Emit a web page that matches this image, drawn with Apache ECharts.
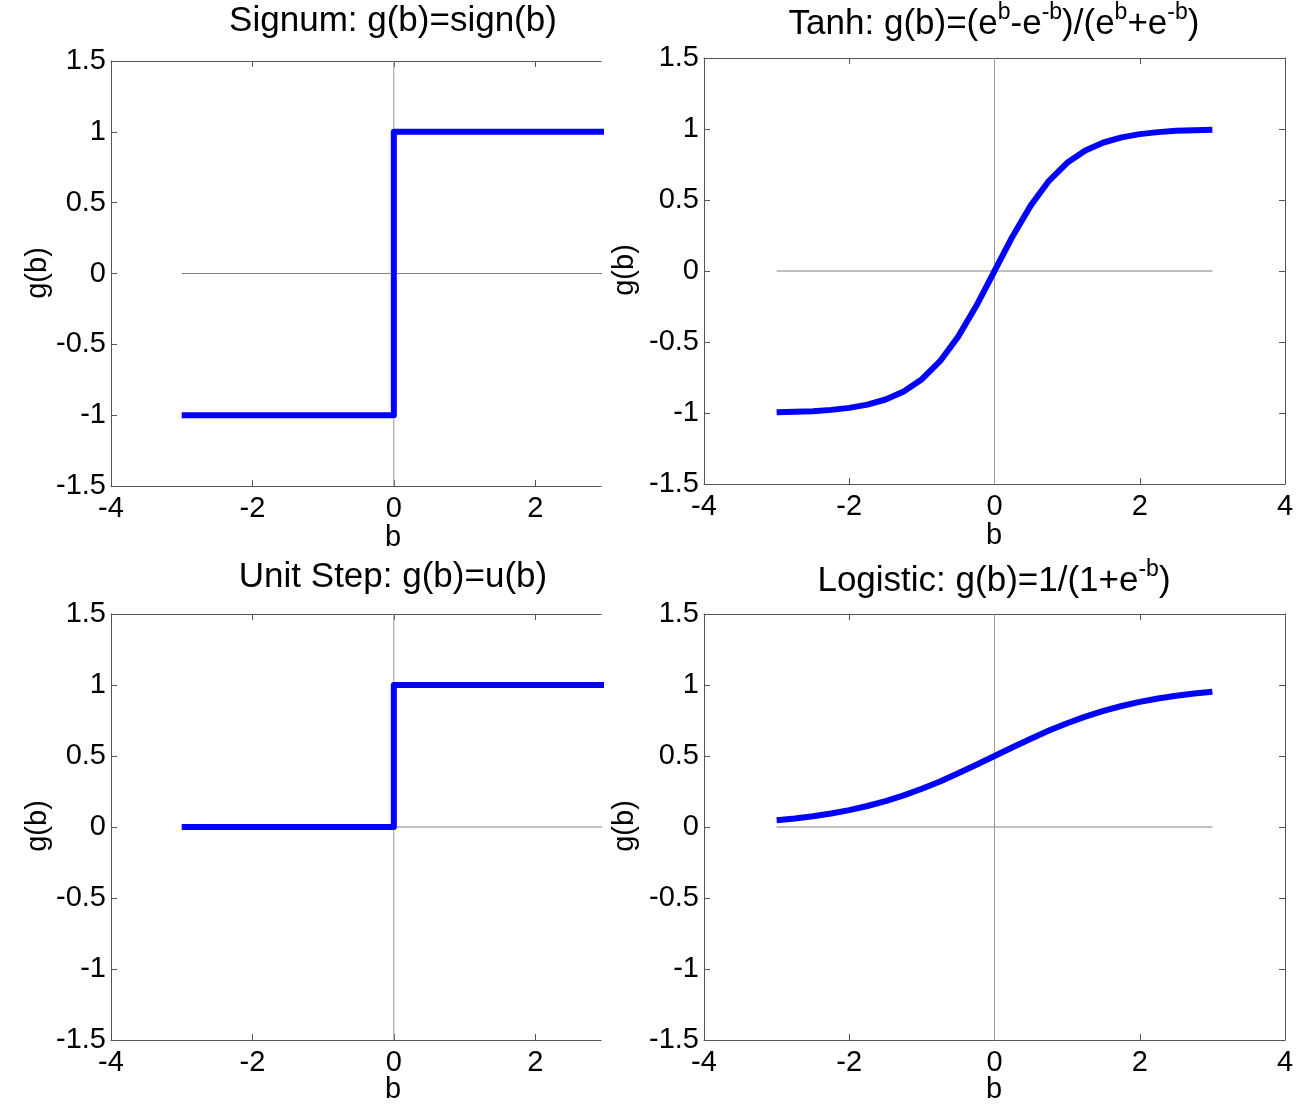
<!DOCTYPE html>
<html>
<head>
<meta charset="utf-8">
<script src="https://cdn.jsdelivr.net/npm/echarts@6/dist/echarts.min.js"></script>
<style>
html,body{margin:0;padding:0;background:#fff;}
#chart{width:1309px;height:1104px;}
</style>
</head>
<body>
<div id="chart"></div>
<script>
// ---- data ----
const bTickValues = [-4, -2, 0, 2, 4];
const gTickValues = [-1.5, -1, -0.5, 0, 0.5, 1, 1.5];

const signumB = [-3, 0, 0, 3];
const signumG = [-1, -1, 1, 1];

const stepB = [-3, 0, 0, 3];
const stepG = [0, 0, 1, 1];

const tanhB = [-3, -2.75, -2.5, -2.25, -2, -1.75, -1.5, -1.25, -1, -0.75, -0.5, -0.25, 0,
               0.25, 0.5, 0.75, 1, 1.25, 1.5, 1.75, 2, 2.25, 2.5, 2.75, 3];
const tanhG = [-0.995, -0.992, -0.987, -0.978, -0.964, -0.941, -0.905, -0.848, -0.762, -0.635, -0.462, -0.245, 0,
               0.245, 0.462, 0.635, 0.762, 0.848, 0.905, 0.941, 0.964, 0.978, 0.987, 0.992, 0.995];

const logisticB = [-3, -2.75, -2.5, -2.25, -2, -1.75, -1.5, -1.25, -1, -0.75, -0.5, -0.25, 0,
                   0.25, 0.5, 0.75, 1, 1.25, 1.5, 1.75, 2, 2.25, 2.5, 2.75, 3];
const logisticG = [0.047, 0.060, 0.076, 0.095, 0.119, 0.148, 0.182, 0.223, 0.269, 0.321, 0.378, 0.438, 0.5,
                   0.562, 0.622, 0.679, 0.731, 0.777, 0.818, 0.852, 0.881, 0.905, 0.924, 0.940, 0.953];

const zeroHB = [-3, 3];
const zeroHG = [0, 0];
const zeroVB = [0, 0];
const zeroVG = [-1.5, 1.5];

// ---- layout ----
const FONT = '"Liberation Sans", Arial, Helvetica, sans-serif';
const AXC = '#555555';
const grids = [
  {left: 111, top: 61, width: 490, height: 425, xmax: 2.93, full: false},
  {left: 704, top: 58, width: 581, height: 426, xmax: 4, full: true},
  {left: 111, top: 614, width: 490, height: 426, xmax: 2.93, full: false},
  {left: 704, top: 614, width: 581, height: 426, xmax: 4, full: true}
];

const pairs = (xs, ys) => xs.map((x, i) => [x, ys[i]]);

const option = {
  animation: false,
  backgroundColor: '#ffffff',
  grid: grids.map(g => ({left: g.left, top: g.top, width: g.width, height: g.height, containLabel: false})),
  xAxis: [],
  yAxis: [],
  series: [],
  title: [],
  graphic: []
};

grids.forEach((g, i) => {
  option.xAxis.push({
    gridIndex: i, type: 'value', position: 'bottom', min: -4, max: g.xmax, interval: 2,
    axisLine: {show: true, onZero: false, lineStyle: {color: AXC, width: 1}},
    axisTick: {show: true, inside: true, length: 6, customValues: bTickValues.filter(v => v <= g.xmax), lineStyle: {color: AXC}},
    axisLabel: {show: true, customValues: bTickValues.filter(v => v <= g.xmax), color: '#000', fontSize: 29, fontFamily: FONT, margin: 8},
    splitLine: {show: false}
  });
  option.xAxis.push({
    gridIndex: i, type: 'value', position: 'top', min: -4, max: g.xmax, interval: 2,
    axisLine: {show: true, onZero: false, lineStyle: {color: AXC, width: 1}},
    axisTick: {show: true, inside: true, length: 6, customValues: bTickValues.filter(v => v > -4 && v < 4 && v <= g.xmax), lineStyle: {color: AXC}},
    axisLabel: {show: false},
    splitLine: {show: false}
  });
  option.yAxis.push({
    gridIndex: i, type: 'value', position: 'left', min: -1.5, max: 1.5, interval: 0.5,
    axisLine: {show: true, onZero: false, lineStyle: {color: AXC, width: 1}},
    axisTick: {show: true, inside: true, length: 6, customValues: gTickValues, lineStyle: {color: AXC}},
    axisLabel: {show: true, customValues: gTickValues, color: '#000', fontSize: 29, fontFamily: FONT, margin: 5},
    splitLine: {show: false}
  });
  option.yAxis.push({
    gridIndex: i, type: 'value', position: 'right', min: -1.5, max: 1.5, interval: 0.5,
    axisLine: {show: g.full, onZero: false, lineStyle: {color: AXC, width: 1}},
    axisTick: {show: g.full, inside: true, length: 6, lineStyle: {color: AXC}},
    axisLabel: {show: false},
    splitLine: {show: false}
  });
});

const curves = [
  {b: signumB, g: signumG},
  {b: tanhB, g: tanhG},
  {b: stepB, g: stepG},
  {b: logisticB, g: logisticG}
];

grids.forEach((g, i) => {
  const xi = i * 2, yi = i * 2;
  option.series.push({
    type: 'line', xAxisIndex: xi, yAxisIndex: yi, data: pairs(zeroHB, zeroHG),
    showSymbol: false, z: 1, silent: true,
    lineStyle: {color: '#808080', width: 1}
  });
  option.series.push({
    type: 'line', xAxisIndex: xi, yAxisIndex: yi, data: pairs(zeroVB, zeroVG),
    showSymbol: false, z: 1, silent: true,
    lineStyle: {color: '#999999', width: 1}
  });
  const c = curves[i];
  option.series.push({
    type: 'line', xAxisIndex: xi, yAxisIndex: yi, data: pairs(c.b, c.g),
    showSymbol: false, z: 3, smooth: false, clip: true,
    lineStyle: {color: '#0000ff', width: 6, join: 'round', cap: 'butt'}
  });
});

// ---- titles ----
const rich = {
  n: {fontSize: 35, fontFamily: FONT, color: '#000'},
  s: {fontSize: 23, fontFamily: FONT, color: '#000', verticalAlign: 'bottom', padding: [0, 0, 24, 0]}
};
const titlePos = [
  {x: 393, y: 4, text: 'Signum: g(b)=sign(b)'},
  {x: 994, y: 1, text: '{n|Tanh: g(b)=(e}{s|b}{n|-e}{s|-b}{n|)/(e}{s|b}{n|+e}{s|-b}{n|)}'},
  {x: 393, y: 560, text: 'Unit Step: g(b)=u(b)'},
  {x: 994, y: 558, text: '{n|Logistic: g(b)=1/(1+e}{s|-b}{n|)}'}
];
titlePos.forEach(t => {
  option.title.push({
    text: t.text, left: t.x, top: t.y, textAlign: 'center', padding: 0,
    textStyle: {fontSize: 35, fontWeight: 'normal', fontFamily: FONT, color: '#000', rich: rich}
  });
});

// ---- axis names ----
const xNames = [{x: 393, y: 538}, {x: 994, y: 536}, {x: 393, y: 1090}, {x: 994, y: 1090}];
xNames.forEach(p => {
  option.graphic.push({type: 'text', x: p.x, y: p.y, style: {text: 'b', fontSize: 29, fontFamily: FONT, fill: '#000', align: 'center', verticalAlign: 'middle'}});
});
const yNames = [{x: 38, y: 273}, {x: 625, y: 270}, {x: 38, y: 826}, {x: 625, y: 826}];
yNames.forEach(p => {
  option.graphic.push({type: 'text', x: p.x, y: p.y, rotation: Math.PI / 2, style: {text: 'g(b)', fontSize: 29, fontFamily: FONT, fill: '#000', align: 'center', verticalAlign: 'middle'}});
});

const chart = echarts.init(document.getElementById('chart'), null, {renderer: 'canvas'});
chart.setOption(option);
</script>
</body>
</html>
